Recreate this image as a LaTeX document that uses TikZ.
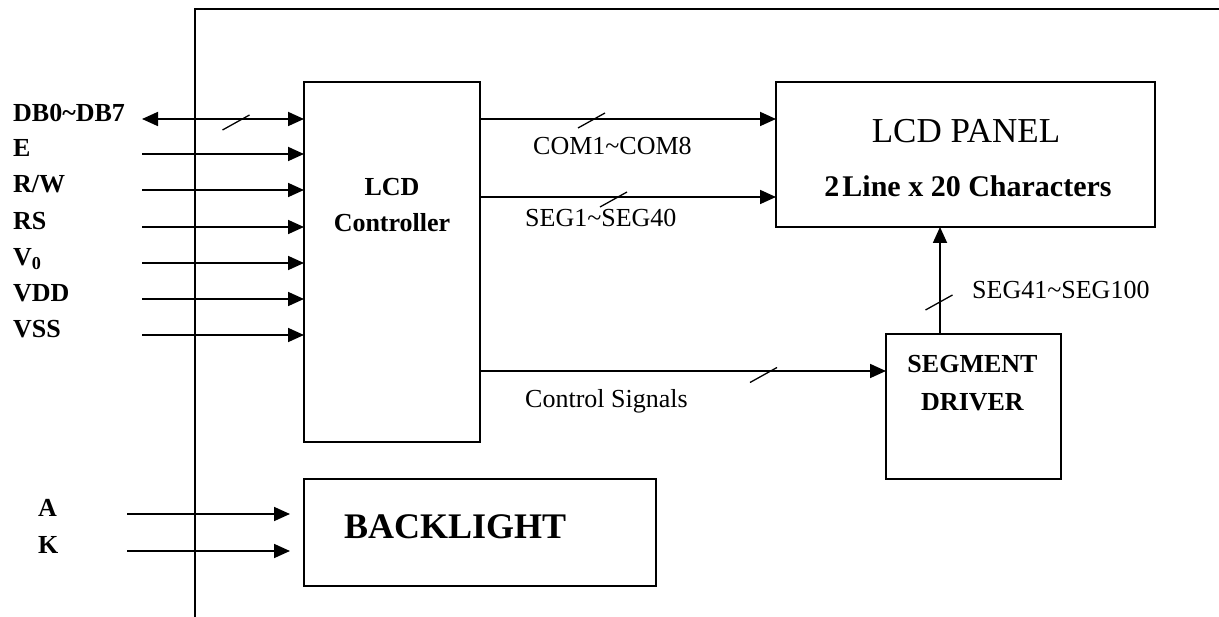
\documentclass[tikz,border=0pt]{standalone}
\usepackage{fontspec}
\setmainfont{Liberation Serif}
\usetikzlibrary{arrows.meta}
\begin{document}
\begin{tikzpicture}[x=1pt,y=-1pt,
  blk/.style={draw, line width=1.3pt, inner sep=0pt, outer sep=0pt},
  arr/.style={line width=1.8pt, -{Triangle[length=16pt,width=14pt]}},
  darr/.style={line width=1.8pt, {Triangle[length=16pt,width=14pt]}-{Triangle[length=16pt,width=14pt]}},
  pinlabel/.style={font=\fontsize{26}{28}\selectfont\bfseries, inner sep=0pt, anchor=base west},
  siglabel/.style={font=\fontsize{26}{28}\selectfont, inner sep=0pt, anchor=base west},
  btitle/.style={font=\fontsize{26}{28}\selectfont\bfseries, inner sep=0pt, anchor=base},
  busmark/.pic={\draw[line width=1.3pt] (-13.5,7.5) -- (13.5,-7.5);}
]
\useasboundingbox (0,0) rectangle (1219,617);

% frame
\draw[line width=1.3pt] (1219,9) -- (195,9) -- (195,617);

% blocks
\node[blk, minimum width=176pt, minimum height=360pt] (ctrl) at (392,262) {};
\node[blk, minimum width=379pt, minimum height=145pt] (panel) at (965.5,154.5) {};
\node[blk, minimum width=175pt, minimum height=145pt] (segdrv) at (973.5,406.5) {};
\node[blk, minimum width=352pt, minimum height=107pt] (back) at (480,532.5) {};

% block texts
\node[btitle] (tLCD) at (392,196) {LCD};
\node[btitle] (tCtrl) at (392,232) {Controller};
\node[font=\fontsize{35}{38}\selectfont, inner sep=0pt, anchor=base] (tPanel) at (966,143) {LCD PANEL};
\node[font=\fontsize{30}{32}\selectfont\bfseries, inner sep=0pt, anchor=base] (tChars) at (968,197) {2\kern3pt Line x 20 Characters};
\node[btitle] (tSeg) at (972.5,373) {SEGMENT};
\node[btitle] (tDrv) at (972.5,411) {DRIVER};
\node[font=\fontsize{36}{38}\selectfont\bfseries, inner sep=0pt, anchor=base west] (tBack) at (344,539) {BACKLIGHT};

% pin labels
\node[pinlabel] (lDB) at (13,122) {DB0\textasciitilde DB7};
\node[pinlabel] (lE) at (13,157) {E};
\node[pinlabel] (lRW) at (13,193) {R/W};
\node[pinlabel] (lRS) at (13,230) {RS};
\node[pinlabel] (lV0) at (13,266) {V\textsubscript{0}};
\node[pinlabel] (lVDD) at (13,302) {VDD};
\node[pinlabel] (lVSS) at (13,338) {VSS};
\node[pinlabel] (lA) at (38,517) {A};
\node[pinlabel] (lK) at (38,553) {K};

% input connectors
\coordinate (inDB) at (142,119);
\draw[darr] (inDB) -- (inDB -| ctrl.west);
\pic at (236,122.5) {busmark};
\foreach \n/\y in {E/154, RW/190, RS/227, V/263, VDD/299, VSS/335} {
  \coordinate (in\n) at (142,\y);
  \draw[arr] (in\n) -- (in\n -| ctrl.west);
}
\coordinate (inA) at (127,514);
\coordinate (inK) at (127,551);
\coordinate (endA) at (290,514);
\coordinate (endK) at (290,551);
\draw[arr] (inA) -- (endA);
\draw[arr] (inK) -- (endK);

% controller outputs
\coordinate (oCom) at (480,119);
\coordinate (oSeg) at (480,197);
\coordinate (oCtl) at (480,371);
\draw[arr] (oCom) -- (oCom -| panel.west);
\pic at (591.5,120.5) {busmark};
\draw[arr] (oSeg) -- (oSeg -| panel.west);
\pic at (613.5,199.5) {busmark};
\draw[arr] (oCtl) -- (oCtl -| segdrv.west);
\pic at (763.5,375) {busmark};

% segment driver to panel
\coordinate (sUp) at (940,334);
\draw[arr] (sUp) -- (sUp |- panel.south);
\pic at (939,302.5) {busmark};

% signal labels
\node[siglabel] (lCom) at (533,155) {COM1\textasciitilde COM8};
\node[siglabel] (lSeg) at (525,227) {SEG1\textasciitilde SEG40};
\node[siglabel] (lCtl) at (525,408) {Control Signals};
\node[siglabel] (lSeg2) at (972,299) {SEG41\textasciitilde SEG100};
\end{tikzpicture}
\end{document}
